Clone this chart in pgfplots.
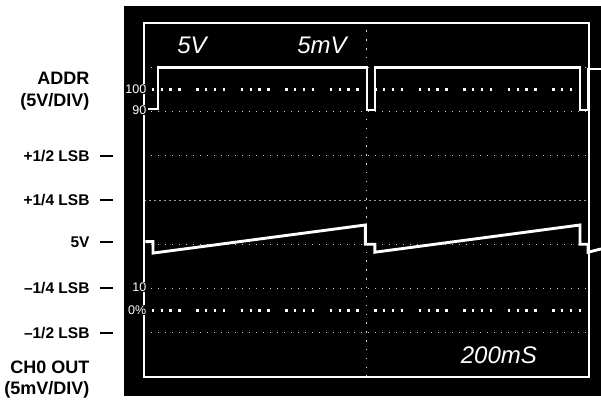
\documentclass[border=0pt]{standalone}
\usepackage{fontspec}
\setmainfont{Liberation Sans}
\usepackage{pgfplots}
\pgfplotsset{compat=1.18}

% horizontal scale: 200 ms/div over 10 divisions; vertical: 8 divisions
\newcommand{\hdr}{\fontsize{18bp}{20bp}\selectfont\bfseries}
\newcommand{\lsb}{\fontsize{15.5bp}{17bp}\selectfont\bfseries}
\newcommand{\scr}{\fontsize{24bp}{26bp}\selectfont\itshape}
\newcommand{\pct}{\fontsize{12.5bp}{13bp}\selectfont}

\begin{document}
\begin{tikzpicture}
\begin{axis}[
  width=445bp, height=354bp, scale only axis,
  xmin=0, xmax=2000, ymin=-4, ymax=4,
  axis lines=none, ticks=none, clip=false,
]
% screen
\fill[black] (axis cs:-89.9,-4.44) rectangle (axis cs:2054,4.38);

% graticule: faint division lines
\foreach \yy in {-3,-2,-1,1,2,3}{
  \edef\tmp{\noexpand\draw[gray!40, line width=0.7bp, dash pattern=on 1bp off 6bp]
    (axis cs:0,\yy) -- (axis cs:2000,\yy);}\tmp
}
% centre lines
\draw[gray!75, line width=0.9bp, dash pattern=on 2.5bp off 2.5bp]
  (axis cs:0,0) -- (axis cs:2000,0);
\draw[white!85!black, line width=1.5bp, dash pattern=on 1.5bp off 7.35bp]
  (axis cs:1000,-4) -- (axis cs:1000,4);
% 100% and 0% reference lines
\draw[white, line width=2.4bp, dash pattern=on 2.4bp off 6.5bp on 2.4bp off 6.5bp on 2.4bp off 6.5bp on 2.4bp off 15.4bp]
  (axis cs:34.4,2.5) -- (axis cs:2000,2.5);
\draw[white, line width=2.4bp, dash pattern=on 2.4bp off 6.5bp on 2.4bp off 6.5bp on 2.4bp off 6.5bp on 2.4bp off 15.4bp]
  (axis cs:34.4,-2.5) -- (axis cs:2000,-2.5);

% graticule border
\draw[white, line width=2.2bp] (axis cs:0,-4) rectangle (axis cs:2000,4);

% rise-time markers
\node[anchor=east, text=white, fill=black, inner sep=0.5bp, font=\pct] at (axis cs:13.5,2.51) {100};
\node[anchor=east, text=white, fill=black, inner sep=0.5bp, font=\pct] at (axis cs:13.5,2.03) {90};
\node[anchor=east, text=white, fill=black, inner sep=0.5bp, font=\pct] at (axis cs:13.5,-1.97) {10};
\node[anchor=east, text=white, fill=black, inner sep=0.5bp, font=\pct] at (axis cs:13.5,-2.49) {0\%};
\fill[white] (axis cs:0,2.27) circle[radius=1.2bp];
\fill[white] (axis cs:0,-2.23) circle[radius=1.2bp];

% ADDR (5 V/div)
\addplot[white, line width=2.6bp, line join=miter] coordinates {
  (18,2.06) (62.9,2.06) (62.9,3.0) (1002,3.0) (1002,2.03) (1038,2.03)
  (1038,3.0) (1959.5,3.0) (1959.5,2.03) (1995.5,2.03) (1995.5,2.96) (2054,2.96)
};
% CH0 OUT (5 mV/div)
\addplot[white, line width=2.9bp, line join=miter] coordinates {
  (6,-0.94) (40.4,-0.94) (40.4,-1.2) (995,-0.565) (995,-1.0) (1038,-1.0)
  (1038,-1.18) (1959.5,-0.565) (1959.5,-1.0) (1995.5,-1.0) (1995.5,-1.18) (2054,-1.107)
};

% on-screen readouts
\node[text=white, font=\scr] at (axis cs:216,3.49) {5V};
\node[text=white, font=\scr] at (axis cs:800,3.49) {5mV};
\node[text=white, font=\scr] at (axis cs:1595,-3.50) {200mS};

% channel labels
\node[anchor=east, font=\hdr] at (axis cs:-229.2,2.76) {ADDR};
\node[anchor=east, font=\hdr] at (axis cs:-229.2,2.21) {(5V/DIV)};
\node[anchor=east, font=\hdr] at (axis cs:-229.2,-3.77) {CH0 OUT};
\node[anchor=east, font=\hdr] at (axis cs:-229.2,-4.29) {(5mV/DIV)};

\node[anchor=east, font=\lsb] at (axis cs:-229.2,1.0) {+1/2 LSB};
\node[anchor=east, font=\lsb] at (axis cs:-229.2,0.0) {+1/4 LSB};
\node[anchor=east, font=\lsb] at (axis cs:-229.2,-0.95) {5V};
\node[anchor=east, font=\lsb] at (axis cs:-229.2,-2.0) {\textendash1/4 LSB};
\node[anchor=east, font=\lsb] at (axis cs:-229.2,-3.0) {\textendash1/2 LSB};
\foreach \yy in {1.0,0.0,-0.95,-2.0,-3.0}{
  \edef\tmp{\noexpand\draw[black, line width=2bp] (axis cs:-197.8,\yy) -- (axis cs:-139.3,\yy);}\tmp
}

\coordinate (bbSW) at (axis cs:-647.2,-4.52);
\coordinate (bbNE) at (axis cs:2054,4.52);
\end{axis}
\pgfresetboundingbox
\path[use as bounding box] (bbSW) rectangle (bbNE);
\end{tikzpicture}
\end{document}
